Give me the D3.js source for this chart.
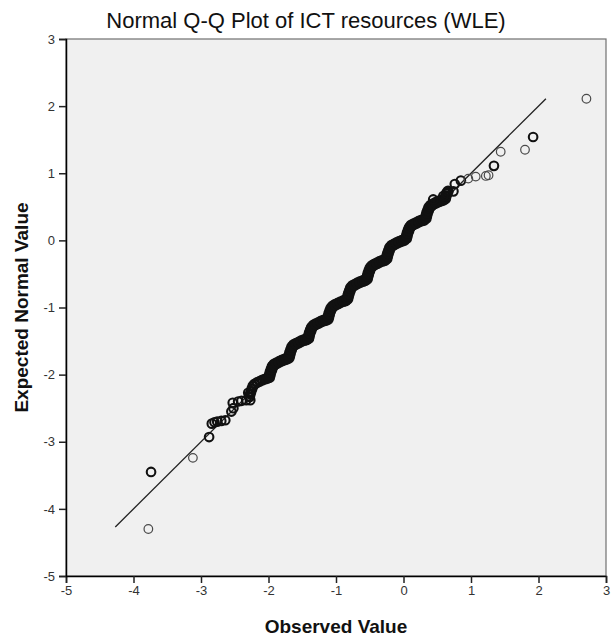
<!DOCTYPE html>
<html><head><meta charset="utf-8">
<script src="https://cdn.jsdelivr.net/npm/d3@7"></script>
<style>body{margin:0;background:#fff;} svg{display:block;font-family:Arial,"Liberation Sans",sans-serif;}</style>
</head><body><div id="chart"></div>
<script>
const titleText = "Normal Q-Q Plot of ICT resources (WLE)";
const xLabel = "Observed Value";
const yLabel = "Expected Normal Value";
const xTicks = [-5,-4,-3,-2,-1,0,1,2,3];
const yTicks = [-5,-4,-3,-2,-1,0,1,2,3];
const refLine = [-4.27, 2.11];
// observed values
const observed = [
 -3.78,-3.74,-3.12,-2.88,-2.84,-2.80,-2.76,-2.70,-2.64,-2.55,-2.52,-2.53,-2.45,-2.40,-2.33,-2.27,-2.30,
 -2.28,-2.27,-2.26,-2.245,-2.23,-2.205,-2.17,-2.13,-2.09,-2.05,-2.02,
 -1.99,-1.98,-1.97,-1.955,-1.94,-1.915,-1.88,-1.84,-1.80,-1.76,-1.73,
 -1.70,-1.69,-1.68,-1.665,-1.65,-1.625,-1.59,-1.55,-1.51,-1.47,-1.44,
 -1.41,-1.40,-1.39,-1.375,-1.36,-1.335,-1.30,-1.26,-1.22,-1.18,-1.15,
 -1.12,-1.11,-1.10,-1.085,-1.07,-1.045,-1.01,-0.97,-0.93,-0.89,-0.86,
 -0.83,-0.82,-0.81,-0.795,-0.78,-0.755,-0.72,-0.68,-0.64,-0.60,-0.57,
 -0.54,-0.53,-0.52,-0.505,-0.49,-0.465,-0.43,-0.39,-0.35,-0.31,-0.28,
 -0.25,-0.24,-0.23,-0.215,-0.20,-0.175,-0.14,-0.10,-0.06,-0.02,0.01,
 0.04,0.05,0.06,0.075,0.09,0.115,0.15,0.19,0.23,0.27,0.30,
 0.33,0.34,0.35,0.365,0.38,0.405,0.44,0.48,0.52,0.56,0.59,
 0.62,0.63,0.64,0.66,0.39,0.44,0.59,
 0.74,0.76,0.85,0.96,1.07,1.22,1.26,1.34,1.44,1.80,1.92,2.71
];
// expected normal values
const expected = [
 -4.30,-3.45,-3.24,-2.93,-2.73,-2.71,-2.70,-2.69,-2.68,-2.55,-2.50,-2.42,-2.40,-2.39,-2.38,-2.38,-2.27,
 -2.33,-2.29,-2.25,-2.21,-2.17,-2.14,-2.12,-2.10,-2.08,-2.065,-2.055,
 -2.04,-2.00,-1.96,-1.92,-1.88,-1.85,-1.83,-1.81,-1.79,-1.775,-1.765,
 -1.75,-1.71,-1.67,-1.63,-1.59,-1.56,-1.54,-1.52,-1.50,-1.485,-1.475,
 -1.46,-1.42,-1.38,-1.34,-1.30,-1.27,-1.25,-1.23,-1.21,-1.195,-1.185,
 -1.17,-1.13,-1.09,-1.05,-1.01,-0.98,-0.96,-0.94,-0.92,-0.905,-0.895,
 -0.87,-0.83,-0.79,-0.75,-0.71,-0.68,-0.66,-0.64,-0.62,-0.605,-0.595,
 -0.57,-0.53,-0.49,-0.45,-0.41,-0.38,-0.36,-0.34,-0.32,-0.305,-0.295,
 -0.27,-0.23,-0.19,-0.15,-0.11,-0.08,-0.06,-0.04,-0.02,-0.005,0.005,
 0.03,0.07,0.11,0.15,0.19,0.22,0.24,0.26,0.28,0.295,0.305,
 0.33,0.37,0.41,0.45,0.49,0.52,0.54,0.56,0.58,0.595,0.605,
 0.62,0.66,0.70,0.73,0.50,0.61,0.66,
 0.73,0.84,0.89,0.92,0.95,0.96,0.97,1.11,1.32,1.35,1.54,2.11
];
// number of tied cases at each point
const cases = [
 1,3,1,3,3,3,3,3,3,3,3,3,3,3,3,3,3,
 4,4,4,4,4,4,4,4,4,4,4,
 6,6,6,6,6,6,6,6,6,6,6,
 6,6,6,6,6,6,6,6,6,6,6,
 6,6,6,6,6,6,6,6,6,6,6,
 6,6,6,6,6,6,6,6,6,6,6,
 6,6,6,6,6,6,6,6,6,6,6,
 6,6,6,6,6,6,6,6,6,6,6,
 6,6,6,6,6,6,6,6,6,6,6,
 6,6,6,6,6,6,6,6,6,6,6,
 6,6,6,6,6,6,6,6,6,6,6,
 5,5,5,5,3,3,3,
 3,3,3,1,1,1,1,3,1,1,3,1
];

const W = 612, H = 639;
const m = {left:66, right:6, top:39, bottom:63};
const svg = d3.select("#chart").append("svg").attr("width", W).attr("height", H);
const x = d3.scaleLinear().domain([-5,3]).range([m.left, W - m.right]);
const y = d3.scaleLinear().domain([-5,3]).range([H - m.bottom, m.top]);
const sw = d3.scaleLinear().domain([1,6]).range([1.2,3.4]).clamp(true);
const col = d3.scaleLinear().domain([1,3]).range(["#4a4a4a","#111"]).clamp(true);

svg.append("rect").attr("x", x(-5)).attr("y", y(3)).attr("width", x(3)-x(-5)).attr("height", y(-5)-y(3))
  .attr("fill", "#f0f0f0").attr("stroke", "#707070").attr("stroke-width", 1.2);

svg.append("text").attr("x", W/2).attr("y", 28).attr("text-anchor","middle")
  .attr("font-size", 22).attr("fill","#111").text(titleText);

const xa = svg.append("g").attr("transform", `translate(0,${y(-5)})`)
  .call(d3.axisBottom(x).tickValues(xTicks).tickSize(7).tickPadding(3).tickFormat(d3.format("d")));
const ya = svg.append("g").attr("transform", `translate(${x(-5)},0)`)
  .call(d3.axisLeft(y).tickValues(yTicks).tickSize(7).tickPadding(4).tickFormat(d3.format("d")));
[xa, ya].forEach(g => {
  g.select(".domain").attr("stroke", "#000").attr("stroke-width", 1.5);
  g.selectAll(".tick line").attr("stroke", "#222").attr("stroke-width", 1.5);
  g.selectAll(".tick text").attr("font-size", 13).attr("fill", "#333").attr("font-family","Arial,'Liberation Sans',sans-serif");
});
xa.selectAll(".tick text").text(d => d < 0 ? "-" + Math.abs(d) : d);
ya.selectAll(".tick text").text(d => d < 0 ? "-" + Math.abs(d) : d);

svg.append("text").attr("x", (x(-5)+x(3))/2).attr("y", 633).attr("text-anchor","middle")
  .attr("font-size", 19).attr("font-weight","bold").attr("fill","#111").text(xLabel);
svg.append("text").attr("transform", `translate(28,${(y(-5)+y(3))/2}) rotate(-90)`).attr("text-anchor","middle")
  .attr("font-size", 19).attr("font-weight","bold").attr("fill","#111").text(yLabel);

svg.append("line").attr("x1", x(refLine[0])).attr("y1", y(refLine[0]))
  .attr("x2", x(refLine[1])).attr("y2", y(refLine[1]))
  .attr("stroke", "#222").attr("stroke-width", 1.3);

const pts = observed.map((o,i) => ({o, e: expected[i], n: cases[i]}));
svg.append("g").selectAll("circle").data(pts).join("circle")
  .attr("cx", d => x(d.o)).attr("cy", d => y(d.e)).attr("r", 4.3)
  .attr("fill", "none").attr("stroke", d => col(d.n)).attr("stroke-width", d => sw(d.n));
</script></body></html>
